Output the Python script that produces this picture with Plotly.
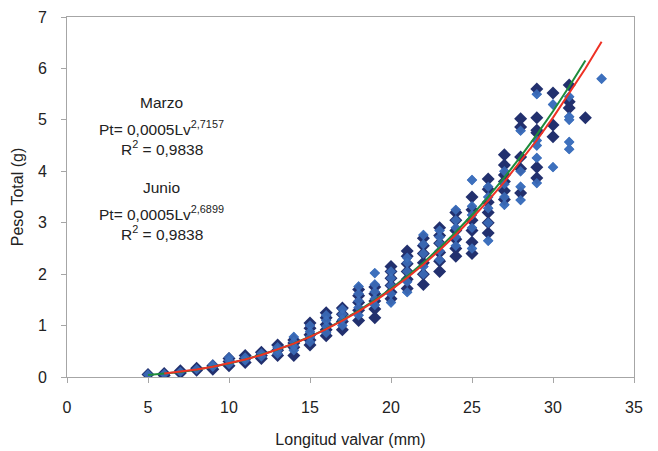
import plotly.graph_objects as go

# ---- data ----
# Marzo (dark diamonds)
marzo_x = [5, 6, 6, 7, 7, 8, 8, 9, 9, 10, 10, 10, 11, 11, 11, 12, 12, 12, 13, 13, 13,
           14, 14, 14, 14, 15, 15, 15, 15, 15, 16, 16, 16, 16, 16, 17, 17, 17, 17,
           18, 18, 18, 18, 18, 19, 19, 19, 19, 19, 20, 20, 20, 20, 20, 20,
           21, 21, 21, 21, 21, 21, 22, 22, 22, 22, 22, 22, 23, 23, 23, 23, 23, 23,
           24, 24, 24, 24, 24, 24, 25, 25, 25, 25, 25, 25, 26, 26, 26, 26, 26, 26,
           27, 27, 27, 27, 27, 27, 28, 28, 28, 28, 28, 29, 29, 29, 29, 29, 29,
           30, 30, 30, 31, 31, 31, 32]
marzo_y = [0.05, 0.03, 0.07, 0.08, 0.12, 0.13, 0.17, 0.15, 0.22, 0.22, 0.30, 0.36, 0.28, 0.36, 0.42, 0.36, 0.42, 0.48, 0.42, 0.52, 0.62,
           0.42, 0.58, 0.66, 0.72, 0.62, 0.72, 0.82, 0.95, 1.05, 0.80, 0.92, 1.02, 1.15, 1.25, 0.92, 1.08, 1.22, 1.34,
           1.10, 1.30, 1.45, 1.58, 1.70, 1.15, 1.32, 1.48, 1.62, 1.75, 1.52, 1.65, 1.78, 1.92, 2.05, 2.15,
           1.72, 1.90, 2.05, 2.20, 2.35, 2.45, 1.80, 2.00, 2.22, 2.40, 2.55, 2.70, 2.05, 2.25, 2.42, 2.60, 2.75, 2.90,
           2.35, 2.50, 2.68, 2.85, 3.05, 3.20, 2.40, 2.62, 2.85, 3.05, 3.25, 3.50, 2.80, 3.00, 3.20, 3.40, 3.65, 3.85,
           3.45, 3.62, 3.80, 3.93, 4.12, 4.32, 3.58, 4.05, 4.28, 4.86, 5.02, 3.87, 4.08, 4.75, 4.80, 5.04, 5.60,
           4.67, 4.90, 5.52, 5.23, 5.35, 5.68, 5.04]

# Junio (light diamonds)
junio_x = [5, 6, 7, 8, 9, 9, 10, 10, 10, 11, 11, 12, 12, 13, 13, 13, 14, 14, 14, 14,
           15, 15, 15, 15, 16, 16, 16, 16, 17, 17, 17, 17, 18, 18, 18, 18, 18,
           19, 19, 19, 19, 19, 20, 20, 20, 20, 20, 21, 21, 21, 21, 21,
           22, 22, 22, 22, 22, 23, 23, 23, 23, 23, 24, 24, 24, 24, 24,
           25, 25, 25, 25, 25, 26, 26, 26, 26, 26, 27, 27, 27, 27, 28, 28, 28, 28,
           29, 29, 29, 29, 29, 30, 30, 31, 31, 31, 31, 31, 33]
junio_y = [0.05, 0.06, 0.10, 0.15, 0.20, 0.24, 0.25, 0.32, 0.38, 0.32, 0.38, 0.40, 0.46, 0.45, 0.52, 0.58, 0.52, 0.60, 0.68, 0.78,
           0.68, 0.78, 0.88, 1.00, 0.86, 0.98, 1.10, 1.20, 1.00, 1.12, 1.22, 1.32, 1.20, 1.35, 1.48, 1.62, 1.76,
           1.40, 1.52, 1.66, 1.80, 2.02, 1.45, 1.62, 1.78, 1.92, 2.05, 1.65, 1.85, 2.05, 2.22, 2.32,
           2.00, 2.15, 2.40, 2.58, 2.76, 2.28, 2.45, 2.60, 2.72, 2.85, 2.55, 2.72, 2.90, 3.05, 3.25,
           2.50, 2.90, 3.15, 3.32, 3.83, 2.65, 3.00, 3.28, 3.50, 3.70, 3.35, 3.50, 3.75, 4.00, 3.44, 3.70, 4.00, 4.79,
           3.77, 4.26, 4.50, 4.60, 5.50, 4.08, 5.30, 4.43, 4.57, 5.00, 5.06, 5.45, 5.80]

# fitted curves
marzo_fit_x = list(range(5, 33))
marzo_fit_y = [0.040, 0.065, 0.099, 0.143, 0.196, 0.261, 0.339, 0.429, 0.533, 0.652, 0.786, 0.937,
               1.104, 1.290, 1.494, 1.717, 1.961, 2.224, 2.511, 2.819, 3.149, 3.503, 3.881, 4.284,
               4.713, 5.167, 5.648, 6.156]
junio_fit_x = list(range(6, 34))
junio_fit_y = [0.066, 0.101, 0.144, 0.198, 0.263, 0.339, 0.429, 0.532, 0.649, 0.781, 0.929, 1.094,
               1.276, 1.475, 1.694, 1.931, 2.188, 2.466, 2.765, 3.086, 3.429, 3.796, 4.189, 4.603,
               5.043, 5.508, 5.999, 6.517]

x_ticks = [0, 5, 10, 15, 20, 25, 30, 35]
y_ticks = [0, 1, 2, 3, 4, 5, 6, 7]

DARK = "#22306E"
LIGHT = "#3D70BD"
FONT = "Liberation Sans, Arial, sans-serif"

fig = go.Figure()
fig.add_trace(go.Scatter(x=junio_x, y=junio_y, mode="markers", name="Junio",
                         marker=dict(symbol="diamond", size=8, color=LIGHT, line=dict(width=0))))
fig.add_trace(go.Scatter(x=marzo_x, y=marzo_y, mode="markers", name="Marzo",
                         marker=dict(symbol="diamond", size=10, color=DARK, line=dict(width=0))))
fig.add_trace(go.Scatter(x=junio_x, y=junio_y, mode="markers", showlegend=False,
                         marker=dict(symbol="diamond", size=8, color=LIGHT, opacity=0.85, line=dict(width=0))))
fig.add_trace(go.Scatter(x=marzo_fit_x, y=marzo_fit_y, mode="lines", name="Marzo fit",
                         line=dict(color="#1E8C3C", width=2)))
fig.add_trace(go.Scatter(x=junio_fit_x, y=junio_fit_y, mode="lines", name="Junio fit",
                         line=dict(color="#EE3124", width=2)))

ann_font = dict(family=FONT, size=15.5, color="#222222")
texts = [
    (5.85, 5.33, "Marzo"),
    (5.85, 4.84, "Pt= 0,0005Lv<sup>2,7157</sup>"),
    (5.85, 4.45, "R<sup>2</sup> = 0,9838"),
    (5.85, 3.69, "Junio"),
    (5.85, 3.19, "Pt= 0,0005Lv<sup>2,6899</sup>"),
    (5.85, 2.80, "R<sup>2</sup> = 0,9838"),
]
for x, y, t in texts:
    fig.add_annotation(x=x, y=y, xref="x", yref="y", text=t, showarrow=False,
                       font=ann_font, xanchor="center", yanchor="middle")

axis_common = dict(showline=True, linecolor="#A6A6A6", linewidth=1, mirror=True,
                   ticks="outside", ticklen=5, tickcolor="#A6A6A6", showgrid=False,
                   zeroline=False, automargin=False,
                   tickfont=dict(family=FONT, size=16, color="#222222"))

fig.update_layout(
    width=658, height=451,
    margin=dict(l=67, r=24, t=17, b=74),
    paper_bgcolor="white", plot_bgcolor="white",
    showlegend=False,
    xaxis=dict(range=[0, 35], tickvals=x_ticks, ticklabelstandoff=11, **axis_common,
               title=dict(text="Longitud valvar (mm)", standoff=18,
                          font=dict(family=FONT, size=16, color="#222222"))),
    yaxis=dict(range=[0, 7], tickvals=y_ticks, ticklabelstandoff=11, **axis_common,
               title=dict(text="Peso Total (g)", standoff=10,
                          font=dict(family=FONT, size=16, color="#222222"))),
)

fig.write_html("out.html", config={"displayModeBar": False},
               post_script="document.body.style.margin='0';")
